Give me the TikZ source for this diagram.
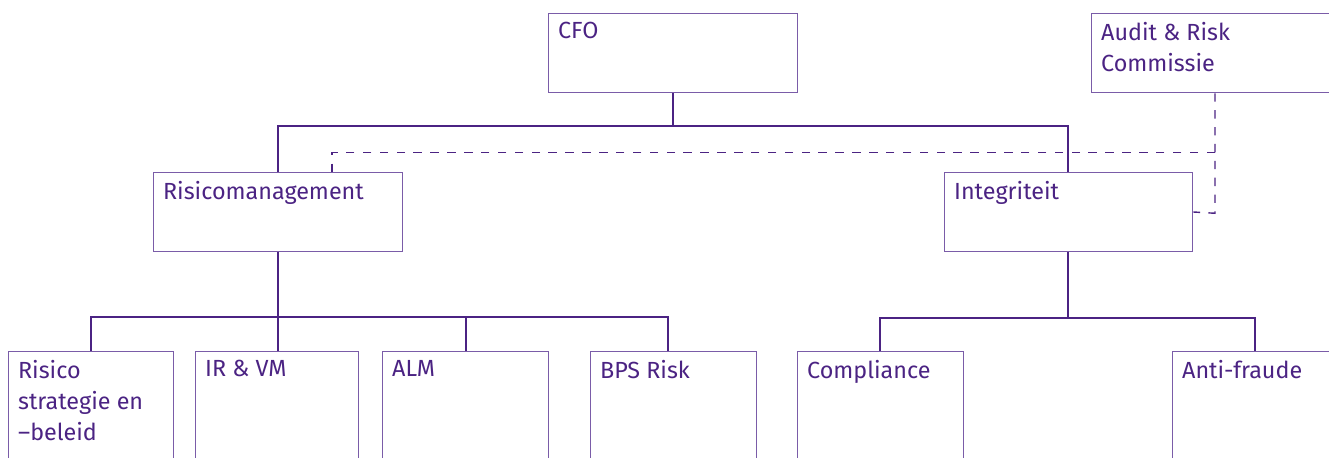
\documentclass[tikz,border=0pt]{standalone}
\usepackage{fontspec}
\setmainfont{Fira Sans}
\usepackage{tikz}
\usetikzlibrary{calc}

\definecolor{paars}{HTML}{4B2383}
\definecolor{rand}{HTML}{7A5CA8}

\tikzset{
  vak/.style={draw=rand, line width=0.9pt, rectangle, anchor=north west, inner sep=0pt},
  tekst/.style={anchor=north west, inner sep=0pt, text=paars, align=left,
    font=\fontsize{16.6}{22}\selectfont, xshift=7pt, yshift=-6.5pt},
  lijn/.style={draw=paars, line width=1.2pt},
  stippel/.style={draw=paars, line width=1pt, dash pattern=on 6pt off 6pt}
}

\begin{document}
\begin{tikzpicture}[x=0.025cm, y=-0.025cm]
  \useasboundingbox (0,0) rectangle (1329,458);
  \clip (0,0) rectangle (1329,458);

  % top row
  \node[vak, minimum width=249*0.025cm, minimum height=79*0.025cm,
        label={[tekst]north west:CFO}] (cfo) at (548,13) {};
  \node[vak, minimum width=260*0.025cm, minimum height=79*0.025cm,
        label={[tekst]north west:Audit \& Risk\\Commissie}] (audit) at (1091,13) {};

  % middle row
  \node[vak, minimum width=249*0.025cm, minimum height=79*0.025cm,
        label={[tekst]north west:Risicomanagement}] (risk) at (153,172) {};
  \node[vak, minimum width=248*0.025cm, minimum height=79*0.025cm,
        label={[tekst]north west:Integriteit}] (integ) at (944,172) {};

  % bottom row
  \node[vak, minimum width=165*0.025cm, minimum height=130*0.025cm,
        label={[tekst]north west:Risico\\strategie en\\--beleid}] (strat) at (8,351) {};
  \node[vak, minimum width=163*0.025cm, minimum height=130*0.025cm,
        label={[tekst]north west:IR \& VM}] (irvm) at (195,351) {};
  \node[vak, minimum width=166*0.025cm, minimum height=130*0.025cm,
        label={[tekst]north west:ALM}] (alm) at (382,351) {};
  \node[vak, minimum width=166*0.025cm, minimum height=130*0.025cm,
        label={[tekst]north west:BPS Risk}] (bps) at (590,351) {};
  \node[vak, minimum width=166*0.025cm, minimum height=130*0.025cm,
        label={[tekst]north west:Compliance}] (compl) at (797,351) {};
  \node[vak, minimum width=166*0.025cm, minimum height=130*0.025cm,
        label={[tekst]north west:Anti-fraude}] (fraude) at (1172,351) {};

  % solid lines
  \draw[lijn] (cfo.south) -- ++(0,33) -| (risk.north);
  \draw[lijn] (cfo.south) -- ++(0,33) -| ($(integ.north west)+(124,0)$);
  \draw[lijn] (risk.south) -- (risk.south |- irvm.north);
  \draw[lijn] (risk.south) ++(0,65) -| (strat.north);
  \draw[lijn] (risk.south) ++(0,65) -| ($(alm.north west)+(84,0)$);
  \draw[lijn] (risk.south) ++(0,65) -| ($(bps.north west)+(78,0)$);
  \draw[lijn] ($(integ.south west)+(124,0)$) -- ++(0,66) -| ($(compl.north west)+(83,0)$);
  \draw[lijn] ($(integ.south west)+(124,0)$) -- ++(0,66) -| ($(fraude.north west)+(83,0)$);

  % dashed lines
  \coordinate (ad) at ($(audit.south west)+(124,0)$);
  \draw[stippel] (ad) -- ++(0,120) -- (integ.east |- 0,212);
  \draw[stippel] ($(ad)+(0,59)$) -| ($(risk.north west)+(179,0)$);
\end{tikzpicture}
\end{document}
